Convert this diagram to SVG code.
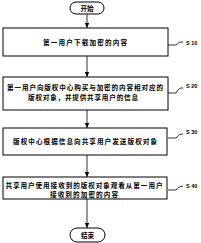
<svg xmlns="http://www.w3.org/2000/svg" width="201" height="243" viewBox="0 0 201 243">
<defs>
<style>
.box{fill:#fff;stroke:#000;stroke-width:1}
.term{fill:#fff;stroke:#000;stroke-width:1}
.t{font-family:"Noto Sans CJK SC","Noto Sans CJK JP",sans-serif;font-size:6.6px;font-weight:bold;fill:#000;text-anchor:middle}
.lbl{font-family:"Liberation Sans",sans-serif;font-size:5.5px;font-weight:bold;fill:#000}
.c{fill:none;stroke:#000;stroke-width:0.8}
</style>
<marker id="ah" markerWidth="6" markerHeight="6" refX="5" refY="3" orient="auto" markerUnits="userSpaceOnUse">
<path d="M0,0.8 L5,3 L0,5.2 z" fill="#000"/>
</marker>
</defs>
<rect width="201" height="243" fill="#fff"/>
<g id="connectors">
<line class="c" x1="87" y1="14" x2="87" y2="28" marker-end="url(#ah)"/>
<line class="c" x1="87" y1="56" x2="87" y2="77" marker-end="url(#ah)"/>
<line class="c" x1="87" y1="110" x2="87" y2="128" marker-end="url(#ah)"/>
<line class="c" x1="87" y1="155" x2="87" y2="177" marker-end="url(#ah)"/>
<line class="c" x1="87" y1="199" x2="87" y2="228" marker-end="url(#ah)"/>
<path class="c" d="M168,45 L176,45 Q179,41 183,42"/>
<path class="c" d="M168,93 L176,93 Q179,87 183,88"/>
<path class="c" d="M168,138 L176,138 Q179,133 183,134"/>
<path class="c" d="M168,190 L176,190 Q179,186 183,186"/>
</g>
<g id="start">
<rect class="term" x="70" y="2" width="34" height="12" rx="6" ry="6"/>
<text class="t" x="87" y="10.5">开始</text>
</g>
<g id="s10">
<rect class="box" x="3" y="28" width="165" height="28"/>
<text class="t" x="85" y="45" textLength="84" lengthAdjust="spacing">第一用户下载加密的内容</text>
<text class="lbl" x="186" y="45">S 10</text>
</g>
<g id="s20">
<rect class="box" x="3" y="77" width="165" height="33"/>
<text class="t" x="85" y="90" textLength="156" lengthAdjust="spacing">第一用户向版权中心购买与加密的内容相对应的</text>
<text class="t" x="83" y="100" textLength="110" lengthAdjust="spacing">版权对象，并提供共享用户的信息</text>
<text class="lbl" x="186" y="88">S 20</text>
</g>
<g id="s30">
<rect class="box" x="3" y="128" width="164" height="27"/>
<text class="t" x="85" y="144" textLength="144" lengthAdjust="spacing">版权中心根据信息向共享用户发送版权对象</text>
<text class="lbl" x="186" y="134">S 30</text>
</g>
<g id="s40">
<rect class="box" x="3" y="177" width="164" height="22"/>
<text class="t" x="84" y="188" textLength="157" lengthAdjust="spacing">共享用户使用接收到的版权对象观看从第一用户</text>
<text class="t" x="84" y="196.5" textLength="68" lengthAdjust="spacing">接收到的加密的内容</text>
<text class="lbl" x="186" y="188">S 40</text>
</g>
<g id="end">
<rect class="term" x="70" y="228" width="35" height="14" rx="7" ry="7"/>
<text class="t" x="87.5" y="237.5">结束</text>
</g>
</svg>
